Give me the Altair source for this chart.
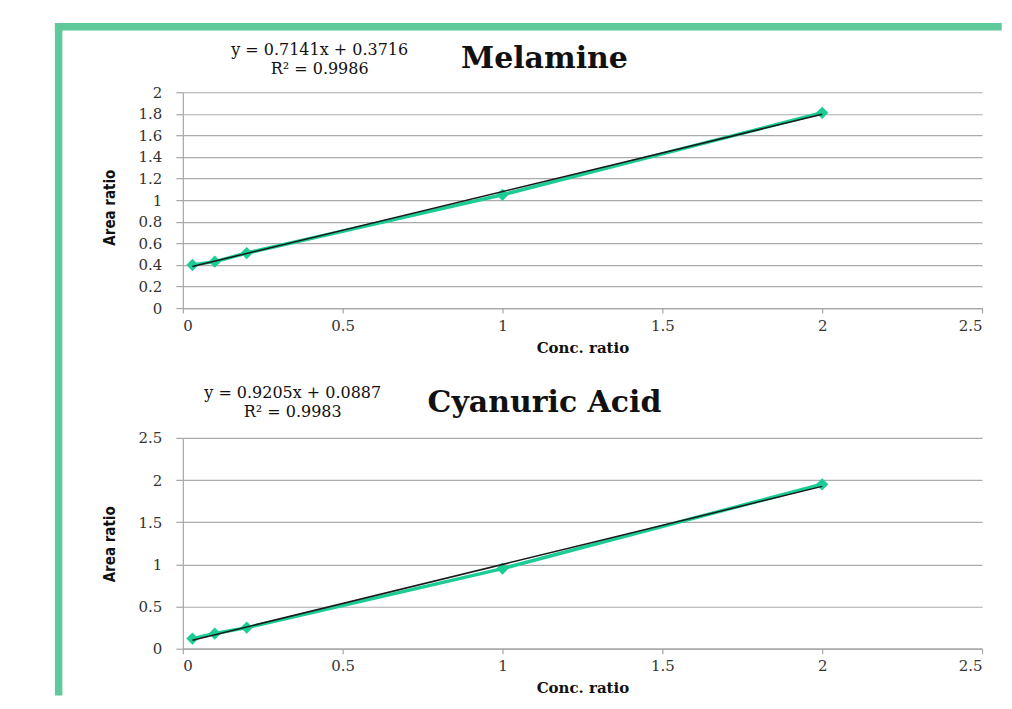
import altair as alt
import pandas as pd

# ---- data ----
conc_ratio = [0.03, 0.1, 0.2, 1.0, 2.0]
melamine_area = [0.40, 0.43, 0.51, 1.05, 1.81]
cyanuric_area = [0.12, 0.18, 0.25, 0.95, 1.95]

panel_titles = ["Melamine", "Cyanuric Acid"]
equations = ["y = 0.7141x + 0.3716", "y = 0.9205x + 0.0887"]
r_squared = ["R² = 0.9986", "R² = 0.9983"]

x_ticks = [0, 0.5, 1, 1.5, 2, 2.5]
y_ticks_top = [0, 0.2, 0.4, 0.6, 0.8, 1, 1.2, 1.4, 1.6, 1.8, 2]
y_ticks_bottom = [0, 0.5, 1, 1.5, 2, 2.5]

GREEN = "#1ccb96"
BORDER = "#5fc99b"
SERIF = "DejaVu Serif"
NARROW = "Liberation Sans Narrow, DejaVu Sans Condensed, sans-serif"


def text_layer(value, x, y, size, weight="normal", align="center", baseline="middle"):
    return alt.Chart(pd.DataFrame({"t": [value]})).mark_text(
        font=SERIF, fontSize=size, fontWeight=weight, color="#111111",
        align=align, baseline=baseline,
    ).encode(text="t:N", x=alt.value(x), y=alt.value(y))


def panel(yvals, name, eq, r2, yticks, ymax, h, eq_x, eq_y, name_y, ytitle_y, xtitle_y, border=False):
    df = pd.DataFrame({"x": conc_ratio, "y": yvals})
    base = alt.Chart(df)
    xenc = alt.X(
        "x:Q",
        scale=alt.Scale(domain=[0, 2.5], nice=False),
        axis=alt.Axis(
            values=x_ticks, tickCount=len(x_ticks), format="~g", grid=False, title="Conc. ratio",
            titleY=xtitle_y, titleBaseline="middle", tickSize=5, labelPadding=5,
            titleFont=SERIF, titleFontWeight="bold", titleFontSize=15,
        ),
    )
    yenc = alt.Y(
        "y:Q",
        scale=alt.Scale(domain=[0, ymax], nice=False),
        axis=alt.Axis(
            values=yticks, tickCount=len(yticks), labelOverlap=False, format="~g", grid=True,
            title="Area ratio",
            titleX=-73, titleY=ytitle_y, titleAngle=270, titleAlign="center",
            titleBaseline="middle", tickSize=7, labelPadding=14,
            titleFont=NARROW, titleFontWeight="bold", titleFontSize=15,
        ),
    )
    line = base.mark_line(color=GREEN, strokeWidth=3.5).encode(x=xenc, y=yenc)
    pts = base.mark_point(shape="diamond", filled=True, size=150, color=GREEN, opacity=1).encode(
        x="x:Q", y="y:Q"
    )
    trend = base.transform_regression("x", "y").mark_line(color="#1a1a1a", strokeWidth=1.5).encode(
        x="x:Q", y="y:Q"
    )
    layers = []
    if border:
        one = alt.Chart(pd.DataFrame({"k": [0]}))
        layers.append(
            one.mark_rule(color=BORDER, strokeWidth=7.5, strokeCap="square").encode(
                x=alt.value(-124.3), x2=alt.value(816), y=alt.value(-65.5)
            )
        )
        layers.append(
            one.mark_rule(color=BORDER, strokeWidth=7.5, strokeCap="square").encode(
                x=alt.value(-124.3), y=alt.value(-65.5), y2=alt.value(600)
            )
        )
    layers += [
        line, pts, trend,
        text_layer(eq, eq_x, eq_y - 9.5, 16),
        text_layer(r2, eq_x, eq_y + 9.5, 16),
        text_layer(name, 362, name_y, 30, weight="bold", baseline="alphabetic"),
    ]
    return alt.layer(*layers).properties(width=800, height=h)


top = panel(melamine_area, panel_titles[0], equations[0], r_squared[0], y_ticks_top, 2, 216,
            137, -32.5, -24, 115, 40, border=True)
bottom = panel(cyanuric_area, panel_titles[1], equations[1], r_squared[1], y_ticks_bottom, 2.5, 211,
               110, -35, -26, 106, 39)

chart = (
    alt.vconcat(top, bottom, spacing=130, bounds="flush")
    .properties(padding={"left": 45, "top": 13, "right": 0, "bottom": 0})
    .configure_view(strokeWidth=0)
    .configure_axis(
        domainColor="#a6a6a6", domainWidth=1.2, tickColor="#a6a6a6", tickWidth=1.2,
        gridColor="#ababab", gridWidth=1.2,
        labelFont=SERIF, labelFontSize=15, labelColor="#333333", titleColor="#111111",
    )
)

chart.save("out.html", embed_options={"renderer": "svg", "actions": False})
